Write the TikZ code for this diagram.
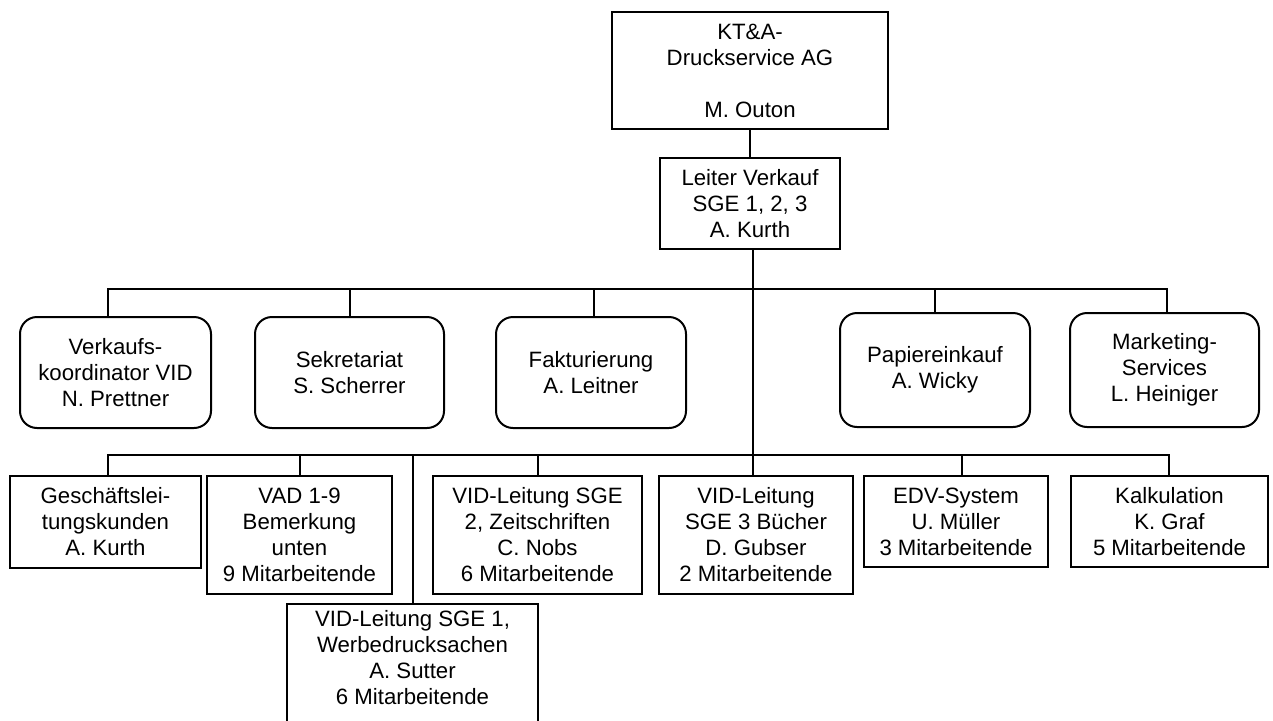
\documentclass[tikz,border=0pt]{standalone}
\usepackage{fontspec}
\setmainfont{Liberation Sans}
\begin{document}
\begin{tikzpicture}[x=1pt,y=-1pt,
  box/.style={draw, line width=2pt, inner sep=0pt, align=center, font=\fontsize{22.2}{26}\selectfont},
  rbox/.style={box, rounded corners=17pt},
  txt/.style={inner sep=0pt, align=center, font=\fontsize{22.2}{26}\selectfont},
  wire/.style={draw, line width=2pt}]
\useasboundingbox (0,0) rectangle (1273,720);
\clip (0,0) rectangle (1273,720);

% top
\node[box, minimum width=276pt, minimum height=117pt] (top) at (750,70.5) {KT\&A-\\Druckservice AG\\[26pt]M. Outon};
\node[box, minimum width=180pt, minimum height=91pt] (leiter) at (750,203.5) {Leiter Verkauf\\SGE 1, 2, 3\\A. Kurth};

% level 1 (rounded)
\node[rbox, minimum width=191pt, minimum height=111pt] (verk) at (115.5,372.5) {Verkaufs-\\koordinator VID\\N. Prettner};
\node[rbox, minimum width=189pt, minimum height=111pt] (sek) at (349.5,372.5) {Sekretariat\\S. Scherrer};
\node[rbox, minimum width=190pt, minimum height=111pt] (fakt) at (591,372.5) {Fakturierung\\A. Leitner};
\node[rbox, minimum width=190pt, minimum height=114pt] (pap) at (935,370) {Papiereinkauf\\A. Wicky};
\node[rbox, minimum width=189pt, minimum height=114pt] (mark) at (1164.5,370) {Marketing-\\Services\\L. Heiniger};

% level 2
\node[box, minimum width=191pt, minimum height=92pt] (gesch) at (105.5,522) {Geschäftslei-\\tungskunden\\A. Kurth};
\node[box, minimum width=185pt, minimum height=118pt] (vad) at (299.5,535) {VAD 1-9\\Bemerkung\\unten\\9 Mitarbeitende};
\node[box, minimum width=209pt, minimum height=118pt] (sge2) at (537.5,535) {VID-Leitung SGE\\2, Zeitschriften\\C. Nobs\\6 Mitarbeitende};
\node[box, minimum width=194pt, minimum height=118pt] (vid3) at (756,535) {VID-Leitung\\SGE 3 Bücher\\D. Gubser\\2 Mitarbeitende};
\node[box, minimum width=184pt, minimum height=91pt] (edv) at (956,521.5) {EDV-System\\U. Müller\\3 Mitarbeitende};
\node[box, minimum width=197pt, minimum height=91pt] (kalk) at (1169.5,521.5) {Kalkulation\\K. Graf\\5 Mitarbeitende};

% level 3 (cut off at the bottom)
\node[box, minimum width=251pt, minimum height=150pt, anchor=north] (sge1) at (412.5,603) {};
\node[txt, anchor=north] (sge1t) at ([yshift=-7pt]sge1.north) {VID-Leitung SGE 1,\\Werbedrucksachen\\A. Sutter\\6 Mitarbeitende};

% connectors
\coordinate (m) at (753,289);
\coordinate (b1l) at (108,289);
\coordinate (b1r) at (1167,289);
\coordinate (d1s) at (350,289);
\coordinate (d1f) at (594,289);
\coordinate (d1p) at (935,289);
\coordinate (b2l) at (108,455);
\coordinate (b2r) at (1169,455);
\coordinate (d2v) at (300,455);
\coordinate (d2a) at (413,455);
\coordinate (d2z) at (538,455);
\coordinate (d2e) at (962,455);

\draw[wire] (top.south) -- (leiter.north);
\draw[wire] (leiter.south -| m) -- (vid3.north -| m);

\draw[wire] (verk.north -| b1l) -- (b1l) -- (b1r) -- (mark.north -| b1r);
\draw[wire] (d1s) -- (sek.north -| d1s);
\draw[wire] (d1f) -- (fakt.north -| d1f);
\draw[wire] (d1p) -- (pap.north -| d1p);

\draw[wire] (gesch.north -| b2l) -- (b2l) -- (b2r) -- (kalk.north -| b2r);
\draw[wire] (d2v) -- (vad.north -| d2v);
\draw[wire] (d2a) -- (sge1.north -| d2a);
\draw[wire] (d2z) -- (sge2.north -| d2z);
\draw[wire] (d2e) -- (edv.north -| d2e);
\end{tikzpicture}
\end{document}
